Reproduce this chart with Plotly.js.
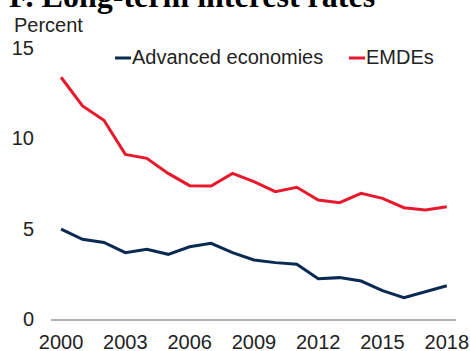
<!DOCTYPE html>
<html>
<head>
<meta charset="utf-8">
<script src="https://cdn.plot.ly/plotly-3.0.1.min.js"></script>
<style>html,body{margin:0;padding:0;background:#fff;}#chart{width:470px;height:351px;}</style>
</head>
<body>
<div id="chart"></div>
<script>
const years = [2000,2001,2002,2003,2004,2005,2006,2007,2008,2009,2010,2011,2012,2013,2014,2015,2016,2017,2018];
const advanced = [4.98,4.41,4.24,3.67,3.86,3.58,4.00,4.19,3.67,3.27,3.12,3.03,2.23,2.29,2.10,1.57,1.18,1.51,1.84];
const emdes = [13.38,11.79,11.00,9.11,8.89,8.06,7.38,7.36,8.06,7.60,7.05,7.29,6.59,6.44,6.96,6.68,6.16,6.03,6.21];
const xTicks = [2000,2003,2006,2009,2012,2015,2018];
const yTicks = [0,5,10,15];
const seriesNames = ["Advanced economies","EMDEs"];

const navy = "#0b2a52";
const red = "#e8192c";
const txt = "#222222";
const font = "Liberation Sans, Arial, sans-serif";
const fs = 20;

const traces = [
  {x: years, y: advanced, name: seriesNames[0], type: "scatter", mode: "lines",
   line: {color: navy, width: 3}},
  {x: years, y: emdes, name: seriesNames[1], type: "scatter", mode: "lines",
   line: {color: red, width: 3}}
];

const layout = {
  width: 470, height: 351,
  margin: {l: 51, r: 14, t: 48, b: 32},
  paper_bgcolor: "#fff", plot_bgcolor: "#fff",
  showlegend: false,
  font: {family: font, size: fs, color: txt},
  title: {text: "F. Long-term interest rates", font: {family: "Liberation Serif, Times New Roman, serif", size: 32, color: "#000", weight: "bold"},
          x: 9/470, xanchor: "left", xref: "container", y: 1 - 7/351, yanchor: "bottom", yref: "container"},
  xaxis: {range: [1999.53, 2018.43], tickvals: xTicks, ticktext: xTicks.map(String),
          showgrid: false, zeroline: false, showline: true, linecolor: "#b3b3b3", linewidth: 2,
          ticks: "", ticklabelstandoff: 4, tickfont: {family: font, size: fs, color: txt}, fixedrange: true},
  yaxis: {range: [0, 15], tickvals: yTicks, ticktext: yTicks.map(String),
          showgrid: false, zeroline: false, showline: false, ticks: "", ticklabelstandoff: 16,
          tickfont: {family: font, size: fs, color: txt}, fixedrange: true},
  shapes: [
    {type: "line", xref: "paper", yref: "paper", x0: (115-51)/405, x1: (131-51)/405,
     y0: 1 - (58-48)/271, y1: 1 - (58-48)/271, line: {color: navy, width: 3}},
    {type: "line", xref: "paper", yref: "paper", x0: (349-51)/405, x1: (365-51)/405,
     y0: 1 - (58-48)/271, y1: 1 - (58-48)/271, line: {color: red, width: 3}}
  ],
  annotations: [
    {text: "Percent", xref: "paper", yref: "paper", x: (12-51)/405, y: 1 + (48-25)/271,
     xanchor: "left", yanchor: "middle", showarrow: false, font: {family: font, size: fs, color: txt}},
    {text: seriesNames[0], xref: "paper", yref: "paper", x: (130-51)/405, y: 1 - (57-48)/271,
     xanchor: "left", yanchor: "middle", showarrow: false, font: {family: font, size: fs, color: txt}},
    {text: seriesNames[1], xref: "paper", yref: "paper", x: (364-51)/405, y: 1 - (57-48)/271,
     xanchor: "left", yanchor: "middle", showarrow: false, font: {family: font, size: fs, color: txt}}
  ]
};

Plotly.newPlot("chart", traces, layout, {displayModeBar: false, staticPlot: true});
</script>
</body>
</html>
